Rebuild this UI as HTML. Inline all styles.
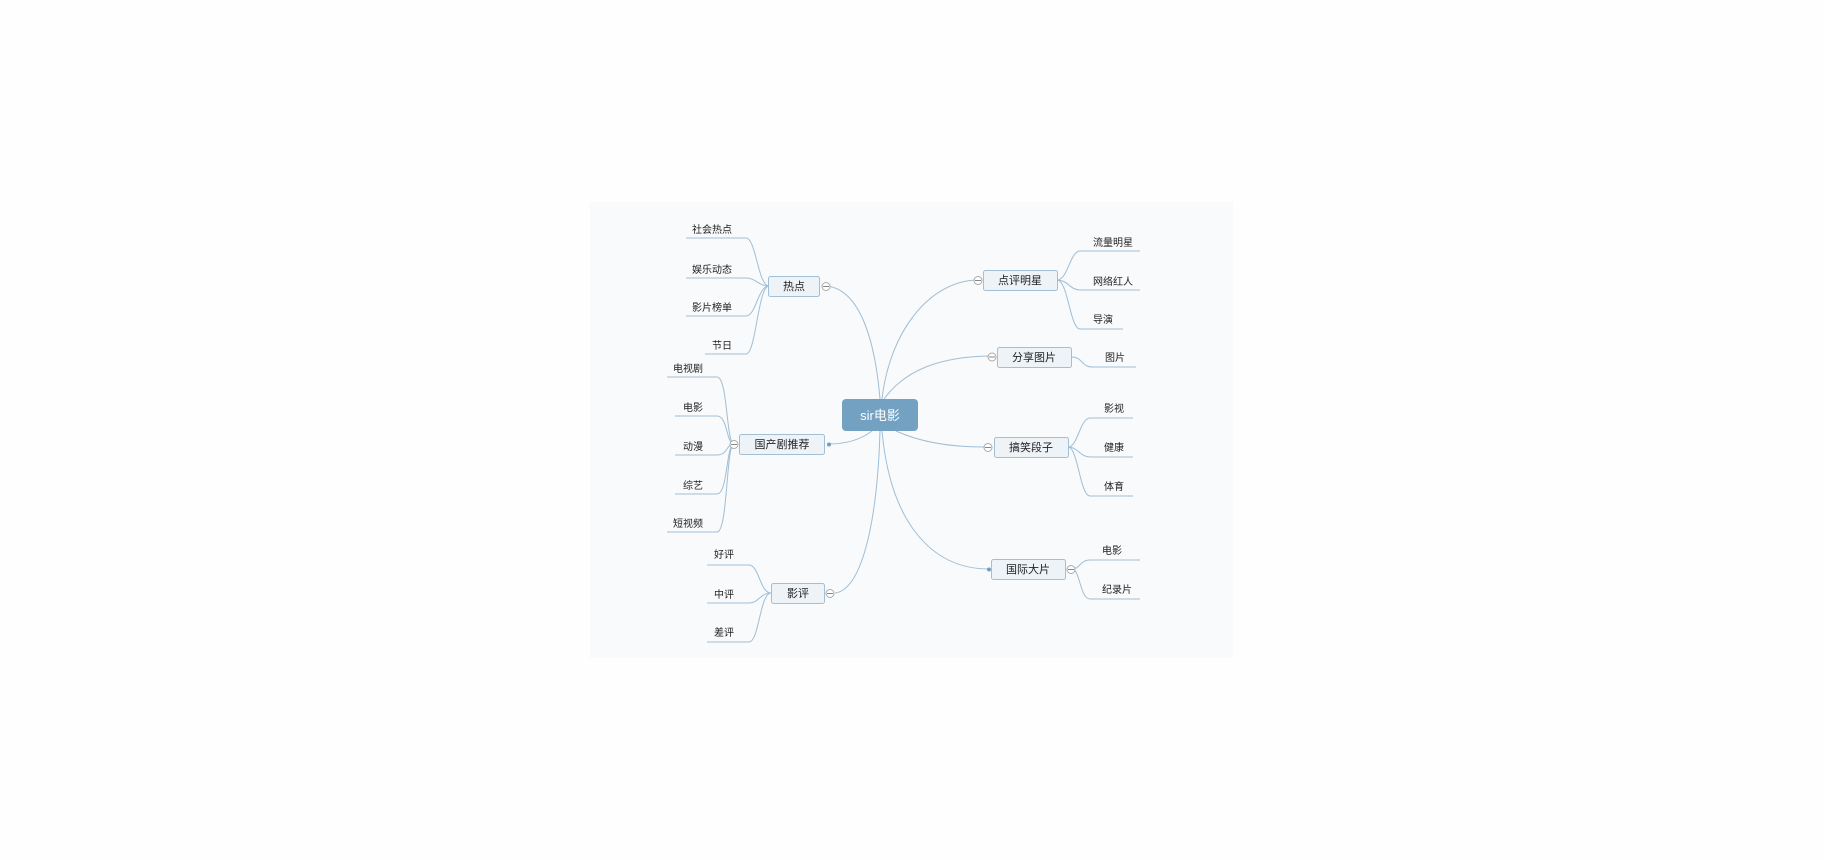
<!DOCTYPE html>
<html><head><meta charset="utf-8"><style>
html,body{margin:0;padding:0;background:#fefefe;}
svg{display:block}
text{font-family:"Liberation Sans","Noto Sans CJK SC",sans-serif;fill:#222;}
</style></head><body>
<svg width="1824" height="860" viewBox="0 0 1824 860" xmlns="http://www.w3.org/2000/svg">
<rect x="590" y="202" width="643" height="456" fill="#f9fafb"/>
<g fill="none" stroke="#9fbed6" stroke-width="1">
<path d="M880,399 C875,340 860,290 827,286"/>
<path d="M882,399 C890,330 930,282 976,280"/>
<path d="M884,399 C905,370 940,357 988,356"/>
<path d="M896,431 C920,442 950,447 984,447"/>
<path d="M872,431 C860,440 845,444 829,444"/>
<path d="M880,431 C877,530 860,590 835,593"/>
<path d="M882,431 C890,520 930,569 989,569"/>
<path d="M769,286 C758,286 756,238 746,238 L686,238"/>
<path d="M769,286 C758,286 756,278 746,278 L686,278"/>
<path d="M769,286 C758,286 756,316 746,316 L686,316"/>
<path d="M769,286 C758,286 756,354 746,354 L705,354"/>
<path d="M734,444 C726,444 728,377 717,377 L667,377"/>
<path d="M734,444 C726,444 728,416 717,416 L675,416"/>
<path d="M734,444 C726,444 728,455 717,455 L675,455"/>
<path d="M734,444 C726,444 728,494 717,494 L675,494"/>
<path d="M734,444 C726,444 728,532 717,532 L667,532"/>
<path d="M771,593 C760,593 759,565 749,565 L707,565"/>
<path d="M771,593 C760,593 759,603 749,603 L707,603"/>
<path d="M771,593 C760,593 759,642 749,642 L707,642"/>
<path d="M1057,280 C1068,280 1070,251 1080,251 L1140,251"/>
<path d="M1057,280 C1068,280 1070,290 1080,290 L1140,290"/>
<path d="M1057,280 C1068,280 1070,329 1080,329 L1123,329"/>
<path d="M1072,357 C1082,357 1082,367 1092,367 L1136,367"/>
<path d="M1068,447 C1078,447 1080,418 1090,418 L1133,418"/>
<path d="M1068,447 C1078,447 1080,457 1090,457 L1133,457"/>
<path d="M1068,447 C1078,447 1080,496 1090,496 L1133,496"/>
<path d="M1072,569 C1080,569 1080,560 1090,560 L1140,560"/>
<path d="M1072,569 C1080,569 1080,599 1090,599 L1140,599"/>
</g>
<rect x="842" y="399" width="76" height="32" rx="4" fill="#72a1c2"/>
<text x="880" y="420" font-size="13" text-anchor="middle" style="fill:#fff">sir电影</text>
<g fill="#eef3f8" stroke="#a3bfd6" stroke-width="1">
<rect x="768.5" y="276.5" width="51" height="20" rx="2"/>
<rect x="983.5" y="270.5" width="74" height="20" rx="2"/>
<rect x="997.5" y="347.5" width="74" height="20" rx="2"/>
<rect x="994.5" y="437.5" width="74" height="20" rx="2"/>
<rect x="991.5" y="559.5" width="74" height="20" rx="2"/>
<rect x="739.5" y="434.5" width="85" height="20" rx="2"/>
<rect x="771.5" y="583.5" width="53" height="20" rx="2"/>
</g>
<g font-size="11" text-anchor="middle">
<text x="794" y="290">热点</text>
<text x="1020" y="284">点评明星</text>
<text x="1034" y="361">分享图片</text>
<text x="1031" y="451">搞笑段子</text>
<text x="1028" y="573">国际大片</text>
<text x="782" y="448">国产剧推荐</text>
<text x="798" y="597">影评</text>
</g>
<g fill="#fff" stroke="#aaa" stroke-width="1">
<circle cx="826" cy="286.5" r="4"/><circle cx="978" cy="280.5" r="4"/>
<circle cx="992" cy="357" r="4"/><circle cx="988" cy="447.5" r="4"/>
<circle cx="1071" cy="569.5" r="4"/><circle cx="734" cy="444.5" r="4"/>
<circle cx="830" cy="593.5" r="4"/>
</g>
<g stroke="#888" stroke-width="1">
<path d="M823,286.5h6M975,280.5h6M989,357h6M985,447.5h6M1068,569.5h6M731,444.5h6M827,593.5h6"/>
</g>
<circle cx="829" cy="444.5" r="2" fill="#6f9fc0"/>
<circle cx="989" cy="569.5" r="2" fill="#6f9fc0"/>
<g font-size="10" text-anchor="end">
<text x="732" y="233">社会热点</text>
<text x="732" y="273">娱乐动态</text>
<text x="732" y="311">影片榜单</text>
<text x="732" y="349">节日</text>
<text x="703" y="372">电视剧</text>
<text x="703" y="411">电影</text>
<text x="703" y="450">动漫</text>
<text x="703" y="489">综艺</text>
<text x="703" y="527">短视频</text>
<text x="734" y="558">好评</text>
<text x="734" y="598">中评</text>
<text x="734" y="636">差评</text>
</g>
<g font-size="10">
<text x="1093" y="246">流量明星</text>
<text x="1093" y="285">网络红人</text>
<text x="1093" y="323">导演</text>
<text x="1105" y="361">图片</text>
<text x="1104" y="412">影视</text>
<text x="1104" y="451">健康</text>
<text x="1104" y="490">体育</text>
<text x="1102" y="554">电影</text>
<text x="1102" y="593">纪录片</text>
</g>
</svg>
</body></html>
